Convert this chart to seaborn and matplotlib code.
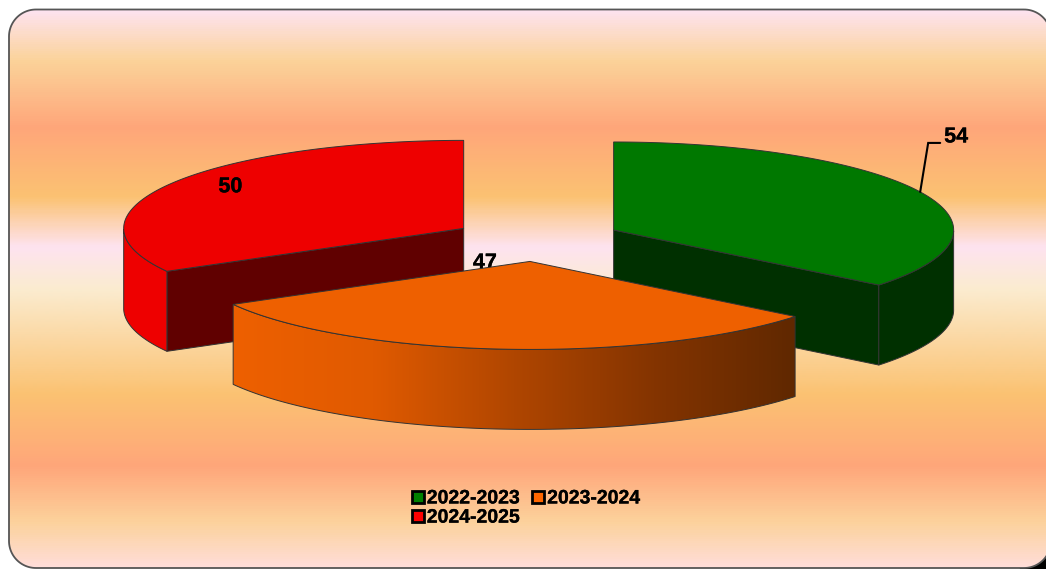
import matplotlib
matplotlib.use("Agg")
import matplotlib.patheffects as pe
import matplotlib.pyplot as plt
import numpy as np
import seaborn as sns
from matplotlib.colors import LinearSegmentedColormap
from matplotlib.lines import Line2D
from matplotlib.patches import Polygon, Rectangle

# chart data
seasons = ["2022-2023", "2023-2024", "2024-2025"]
counts = [54, 47, 50]

# styling
top_colors = ["#007800", "#EE6000", "#EE0000"]
cut_colors = ["#003000", "#602800", "#600000"]
wall_colors = ["#003000", None, "#EE0000"]
legend_colors = ["#008000", "#FF6600", "#FF0000"]
back_stops = [
    (0.00, "#FEE3F0"), (0.09, "#FBD39A"), (0.21, "#FFA67A"), (0.335, "#FBC272"),
    (0.425, "#FEE3F0"), (0.50, "#FBECD0"), (0.69, "#FBC272"), (0.82, "#FFA67A"),
    (0.92, "#FCD29C"), (1.00, "#FFDDD8"),
]

RX, RY = 340, 88      # pie ellipse radii, pixels
DEPTH = 80            # height of the pie
EXPLODE = 0.25
CENTER = (537, 239.5)

sns.set_theme(style="white")
plt.rcParams["font.family"] = ["Liberation Sans", "DejaVu Sans"]

fig = plt.figure(figsize=(10.46, 5.69), dpi=100)
ax = fig.add_axes([0, 0, 1, 1])
heavier = [pe.withStroke(linewidth=0.2, foreground="black")]


def rounded_box(x0, y0, x1, y1, r):
    # straight segments only, the frame runs past the right side of the figure
    t = np.linspace(0, np.pi / 2, 24)
    xs = np.r_[x1 - r + r * np.sin(t), x1 - r + r * np.cos(t), x0 + r - r * np.sin(t), x0 + r - r * np.cos(t)]
    ys = np.r_[y0 + r - r * np.cos(t), y1 - r + r * np.sin(t), y1 - r + r * np.cos(t), y0 + r - r * np.sin(t)]
    return np.column_stack([xs, ys])


# black corner showing behind the rounded frame
ax.add_patch(Rectangle((1020, 540), 40, 40, color="black", zorder=0))

# gradient background in a rounded frame
frame = Polygon(rounded_box(9, 9.5, 1051, 568, 27), closed=True, facecolor="none",
                edgecolor="#555555", linewidth=1.3, zorder=2)
ax.add_patch(frame)
back_cmap = LinearSegmentedColormap.from_list("back", back_stops)
back = ax.imshow(np.linspace(0, 1, 560)[:, None], cmap=back_cmap, aspect="auto",
                 extent=(9, 1051, 568, 9), zorder=1)
back.set_clip_path(frame)

orange_wall = sns.blend_palette(["#EE6000", "#E05A00", "#B04600", "#843400", "#602800"], as_cmap=True)


def rim(cx, cy, deg):
    # deg is clockwise from the top of the pie
    t = np.radians(90 - np.asarray(deg, dtype=float))
    return cx + RX * np.cos(t), cy - RY * np.sin(t)


edge = dict(edgecolor="#333333", linewidth=0.7)
total = sum(counts)
sweeps = np.array(counts) / total * 360
starts = np.concatenate([[0], np.cumsum(sweeps)[:-1]])

# back slices first, the front one last
for i in [2, 0, 1]:
    start, sweep = starts[i], sweeps[i]
    end = start + sweep
    mid = start + sweep / 2
    mx, my = rim(0, 0, mid)
    cx = CENTER[0] + EXPLODE * mx
    cy = CENTER[1] + EXPLODE * my
    arc = np.linspace(start, end, 200)
    arc_x, arc_y = rim(cx, cy, arc)

    # cut faces that look to the viewer: end of the right slice, start of the left one
    if i != 1:
        ex, ey = rim(cx, cy, end if i == 0 else start)
        pts = [(cx, cy), (ex, ey), (ex, ey + DEPTH), (cx, cy + DEPTH)]
        ax.add_patch(Polygon(pts, facecolor=cut_colors[i], zorder=3, **edge))

    # outer wall, only the part that faces front
    front = (arc >= 90) & (arc <= 270)
    wx, wy = arc_x[front], arc_y[front]
    pts = np.column_stack([np.r_[wx, wx[::-1]], np.r_[wy, wy[::-1] + DEPTH]])
    if wall_colors[i] is None:
        wall = Polygon(pts, facecolor="none", zorder=5, **edge)
        ax.add_patch(wall)
        img = ax.imshow(np.linspace(0, 1, 256)[None, :], cmap=orange_wall, aspect="auto",
                        extent=(wx.min(), wx.max(), wy.max() + DEPTH, wy.min()), zorder=4)
        img.set_clip_path(wall)
    else:
        ax.add_patch(Polygon(pts, facecolor=wall_colors[i], zorder=3, **edge))

    # top face
    pts = np.column_stack([np.r_[cx, arc_x], np.r_[cy, arc_y]])
    ax.add_patch(Polygon(pts, facecolor=top_colors[i], zorder=6 if i == 1 else 3.5, **edge))

    # value labels
    lx, ly = rim(cx, cy, mid)
    label = dict(ha="center", va="center", fontsize=15.5, fontweight="bold", color="black",
                 path_effects=heavier)
    if i == 0:
        ax.plot([lx, lx + 8, lx + 20], [ly, ly - 49, ly - 49], color="black", lw=1.5,
                solid_joinstyle="miter", zorder=7)
        ax.text(lx + 36, ly - 55, counts[i], zorder=8, **label)
    elif i == 1:
        ax.text(cx - 45, cy + 1.5, counts[i], zorder=3.8, **label)
    else:
        ax.text(lx + 60, ly + 3, counts[i], zorder=8, **label)

# legend fills by column, so the third season goes second
order = [0, 2, 1]
handles = [Line2D([], [], linestyle="none", marker="s", markersize=8,
                  markerfacecolor=legend_colors[k], markeredgecolor="black",
                  markeredgewidth=2, label=seasons[k]) for k in order]
legend = ax.legend(handles=handles, ncol=2, loc="upper left", bbox_to_anchor=(405, 484),
                   bbox_transform=ax.transData, frameon=False,
                   prop=dict(size=14, weight="bold"), labelcolor="black",
                   handlelength=0.7, handletextpad=0.12, columnspacing=0.6,
                   labelspacing=0.08, borderpad=0.3, borderaxespad=0)
for text in legend.get_texts():
    text.set_path_effects(heavier)

ax.set_xlim(0, 1046)
ax.set_ylim(569, 0)
ax.axis("off")

fig.savefig("out.png", dpi=100, facecolor="white")
